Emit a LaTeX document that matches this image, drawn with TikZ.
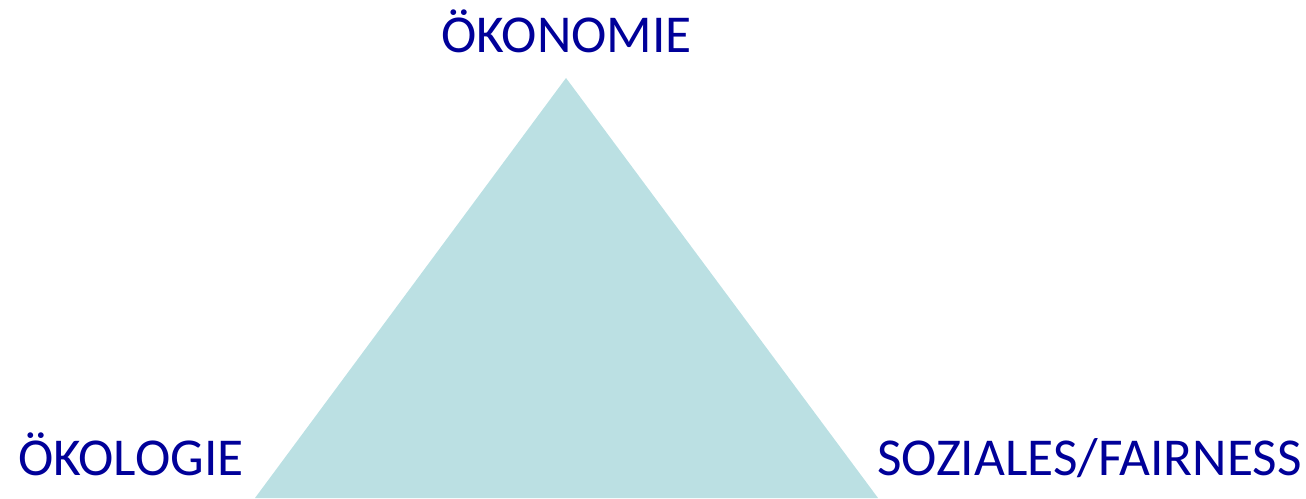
\documentclass[tikz,border=0pt]{standalone}
\usepackage{fontspec}
\setmainfont{Carlito}
\definecolor{lbl}{HTML}{000099}
\definecolor{tri}{HTML}{BBE0E3}
\begin{document}
\begin{tikzpicture}[x=1pt,y=1pt,
  lab/.style={inner sep=0pt,text=lbl,font=\fontsize{53.3}{60}\selectfont}]
\useasboundingbox (0,0) rectangle (1306,498);
\fill[tri] (566,420) coordinate (apex) -- (878,0) coordinate (right) -- (255,0) coordinate (left) -- cycle;
\node[lab,anchor=base] (oek) at (566.5,445) {ÖKONOMIE};
\node[lab,anchor=base west] (oeko) at (18,23) {ÖKOLOGIE};
\node[lab,anchor=base west] (soz) at (877,23) {SOZIALES/FAIRNESS};
\end{tikzpicture}
\end{document}
